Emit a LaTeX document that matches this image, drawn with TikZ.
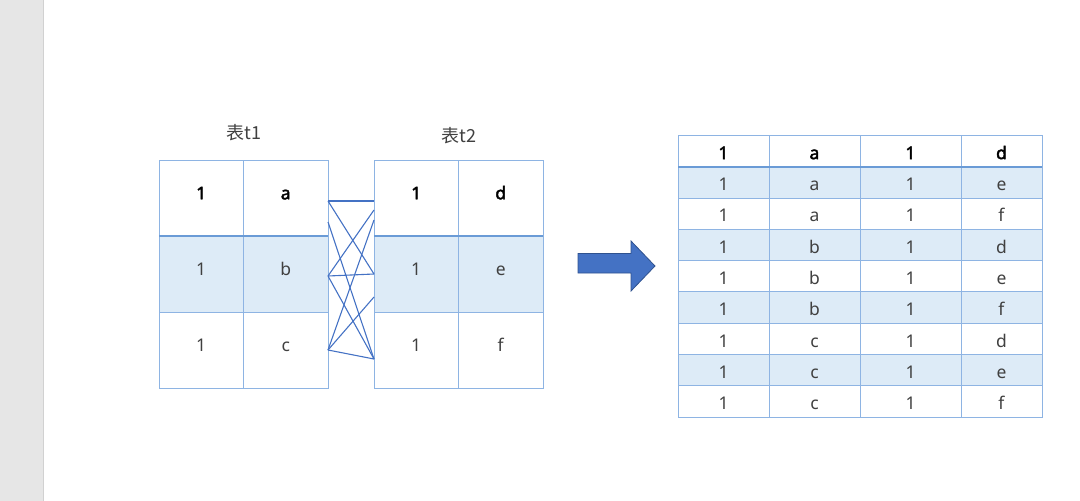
\documentclass[tikz,border=0pt]{standalone}
\usepackage{fontspec}
\setmainfont{Noto Sans}[AutoFakeBold=2.5]
\newfontfamily\cjk{Noto Sans CJK SC}
\usepackage{xcolor}
\definecolor{gridblue}{HTML}{8EB4E3}
\definecolor{rulesblue}{HTML}{6A9BD6}
\definecolor{rowblue}{HTML}{DDEBF7}
\definecolor{linkblue}{HTML}{4472C4}
\definecolor{arrowedge}{HTML}{2F528F}
\definecolor{pagegray}{HTML}{E6E6E6}
\definecolor{cellink}{HTML}{404040}
\usetikzlibrary{positioning}
\tikzset{
  bigcell/.style={draw=gridblue,line width=0.9pt,minimum width=84.5pt,minimum height=76pt,inner sep=0pt,outer sep=0pt,anchor=north west,text height=12.5pt,text depth=10pt,font=\fontsize{17.5}{17.5}\selectfont,text=cellink},
  rescell/.style={draw=gridblue,line width=0.9pt,minimum height=31.3pt,inner sep=0pt,outer sep=0pt,anchor=north west,text height=16.5pt,text depth=0pt,font=\fontsize{17.5}{17.5}\selectfont,text=cellink},
  headtext/.style={font=\fontsize{17.5}{17.5}\selectfont\bfseries,text=black},
  tabletitle/.style={font=\cjk\fontsize{18}{18}\selectfont,text=cellink},
  linkline/.style={linkblue,line width=1.1pt},
  headrule/.style={rulesblue,line width=1.8pt}
}
\begin{document}
\begin{tikzpicture}[x=1pt,y=-1pt]
\useasboundingbox (0,0) rectangle (1080,501);
% page edge
\fill[pagegray] (0,0) rectangle (43,501);
\draw[black!18,line width=0.8pt] (43,0) -- (43,501);

% table t1
\node[tabletitle] (title1) at (244,133) {表t1};
\node[bigcell,headtext] (t1-h1) at (159,160) {1};
\node[bigcell,headtext,right=0pt of t1-h1] (t1-h2) {a};
\node[bigcell,fill=rowblue,below=0pt of t1-h1] (t1-b1) {1};
\node[bigcell,fill=rowblue,right=0pt of t1-b1] (t1-b2) {b};
\node[bigcell,below=0pt of t1-b1] (t1-c1) {1};
\node[bigcell,right=0pt of t1-c1] (t1-c2) {c};
\draw[headrule] (t1-h1.south west) -- (t1-h2.south east);

% table t2
\node[tabletitle] (title2) at (459,136) {表t2};
\node[bigcell,headtext] (t2-h1) at (374,160) {1};
\node[bigcell,headtext,right=0pt of t2-h1] (t2-h2) {d};
\node[bigcell,fill=rowblue,below=0pt of t2-h1] (t2-e1) {1};
\node[bigcell,fill=rowblue,right=0pt of t2-e1] (t2-e2) {e};
\node[bigcell,below=0pt of t2-e1] (t2-f1) {1};
\node[bigcell,right=0pt of t2-f1] (t2-f2) {f};
\draw[headrule] (t2-h1.south west) -- (t2-h2.south east);

% links between rows
\coordinate (la) at (328,201);
\coordinate (la2) at (328,222);
\coordinate (lb) at (328,276);
\coordinate (lc) at (328,350);
\coordinate (rd) at (374,201);
\coordinate (rd2) at (374,210);
\coordinate (rd3) at (374,220);
\coordinate (re) at (374,274);
\coordinate (re2) at (374,297);
\coordinate (rf) at (374,359);
\draw[linkline,line width=1.7pt] (la) -- (rd);
\draw[linkline] (la) -- (re);
\draw[linkline] (la2) -- (rf);
\draw[linkline] (lb) -- (rd2);
\draw[linkline] (lb) -- (re);
\draw[linkline] (lb) -- (rf);
\draw[linkline] (lc) -- (rd3);
\draw[linkline] (lc) -- (re2);
\draw[linkline] (lc) -- (rf);

% block arrow
\draw[fill=linkblue,draw=arrowedge,line width=0.8pt,line join=miter]
  (578,253.5) -- (631,253.5) -- (631,241) -- (655,266) -- (631,291)
  -- (631,273) -- (578,273) -- cycle;

% result table
\node[rescell,headtext,minimum width=91pt,minimum height=31.7pt] (res-h1) at (678,135) {1};
\node[rescell,headtext,minimum width=91pt,minimum height=31.7pt,right=0pt of res-h1] (res-h2) {a};
\node[rescell,headtext,minimum width=101pt,minimum height=31.7pt,right=0pt of res-h2] (res-h3) {1};
\node[rescell,headtext,minimum width=81pt,minimum height=31.7pt,right=0pt of res-h3] (res-h4) {d};
\foreach \u/\v [count=\i] in {a/e,a/f,b/d,b/e,b/f,c/d,c/e,c/f} {
  \ifodd\i\def\rowfill{rowblue}\else\def\rowfill{white}\fi
  \pgfmathsetmacro\yy{166.7+(\i-1)*31.3}
  \node[rescell,fill=\rowfill,minimum width=91pt] (res\i-1) at (678,\yy) {1};
  \node[rescell,fill=\rowfill,minimum width=91pt,right=0pt of res\i-1] (res\i-2) {\u};
  \node[rescell,fill=\rowfill,minimum width=101pt,right=0pt of res\i-2] (res\i-3) {1};
  \node[rescell,fill=\rowfill,minimum width=81pt,right=0pt of res\i-3] (res\i-4) {\v};
}
\draw[headrule] (res-h1.south west) -- (res-h4.south east);
\end{tikzpicture}
\end{document}
